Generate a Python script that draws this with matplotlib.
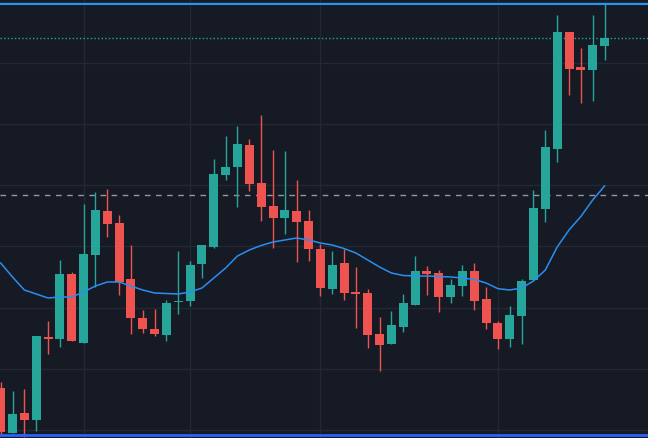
import numpy as np
import matplotlib.pyplot as plt

# OHLC per candle (price units)
opens = [5.2, 0.7, 2.7, 2.0, 10.3, 10.1, 16.6, 9.7, 18.5, 22.9,
         21.7, 16.1, 12.2, 11.1, 10.5, 13.8, 13.9, 17.6, 19.3, 26.5,
         27.3, 29.5, 25.7, 23.4, 22.2, 22.9, 21.9, 19.1, 15.1, 17.7,
         14.8, 14.7, 10.6, 9.6, 11.3, 13.5, 16.9, 16.7, 14.3, 15.4,
         16.9, 14.1, 11.7, 10.1, 12.4, 16.0, 23.1, 29.1, 40.8, 37.3,
         37.0, 39.4]
highs = [5.8, 4.9, 5.1, 10.4, 11.9, 18.0, 16.8, 23.6, 24.8, 25.1,
         22.5, 19.5, 13.0, 13.1, 14.0, 18.9, 17.9, 19.5, 28.1, 30.4,
         31.4, 30.1, 32.5, 29.0, 28.9, 26.0, 23.0, 19.6, 18.9, 19.1,
         17.3, 15.1, 12.3, 12.9, 14.6, 18.4, 17.4, 17.0, 16.1, 17.5,
         17.7, 15.3, 11.9, 13.4, 16.1, 25.0, 31.0, 42.5, 40.8, 39.2,
         42.5, 43.7]
lows = [0.4, 0.7, 0.3, 0.9, 8.6, 9.3, 9.9, 9.7, 15.3, 20.3,
        14.5, 10.6, 10.7, 10.4, 9.9, 12.6, 13.4, 16.2, 19.2, 26.0,
        23.3, 24.9, 21.9, 19.2, 20.6, 17.8, 17.9, 14.4, 14.6, 14.0,
        11.2, 9.2, 6.9, 9.6, 10.8, 13.5, 14.5, 12.8, 13.7, 14.4,
        13.0, 11.1, 9.1, 9.3, 9.6, 16.0, 21.8, 27.8, 34.5, 33.7,
        33.9, 38.0]
closes = [0.8, 2.6, 2.0, 10.4, 10.1, 16.6, 9.9, 18.6, 23.0, 21.6,
          15.8, 12.2, 11.1, 10.6, 13.7, 13.9, 17.5, 19.5, 26.6, 27.3,
          29.6, 25.6, 23.3, 22.2, 23.0, 21.8, 19.1, 15.2, 17.5, 14.7,
          14.6, 10.5, 9.5, 11.5, 13.7, 16.9, 16.6, 14.3, 15.5, 16.9,
          13.9, 11.7, 10.1, 12.5, 15.9, 23.2, 29.3, 40.8, 37.1, 37.0,
          39.5, 40.2]
# moving average line
ma = [17.7, 16.3, 15.0, 14.6, 14.2, 14.3, 14.3, 14.8, 15.4, 15.8,
      15.8, 15.4, 15.0, 14.7, 14.65, 14.6, 14.8, 15.2, 16.2, 17.2,
      18.4, 19.0, 19.45, 19.8, 20.0, 20.2, 20.0, 19.7, 19.5, 19.15,
      18.7, 18.0, 17.3, 16.7, 16.45, 16.4, 16.4, 16.35, 16.3, 16.2,
      16.05, 15.7, 15.13, 15.0, 15.2, 15.9, 17.0, 19.3, 21.0, 22.35,
      24.0, 25.4]

time_grid = [7, 16, 27, 42]
dashed_level = 24.47
upper_band = 43.6
lower_band = 0.5

BG = '#161a25'
UP = '#26a69a'
DOWN = '#ef5350'

fig = plt.figure(figsize=(6.48, 4.38), dpi=100, facecolor=BG)
ax = fig.add_axes([0, 0, 1, 1])
ax.set_facecolor(BG)

x = np.arange(len(opens))
o = np.array(opens)
c = np.array(closes)
up = c >= o
colors = np.where(up, UP, DOWN)

ax.vlines(x, lows, highs, colors=colors, linewidth=1, zorder=3)
ax.bar(x, np.abs(c - o) + 0.08, bottom=np.minimum(o, c) - 0.04, width=0.76,
       color=colors, linewidth=0, zorder=4)

ax.plot(x, ma, color='#2a8ef0', linewidth=1.1, zorder=5)

# last price line, reference level and band edges
ax.axhline(closes[-1], color=UP, linewidth=1, linestyle=(0, (1, 1.6)), zorder=2)
ax.axhline(dashed_level, color='#9598a1', linewidth=1, linestyle=(0, (4, 4)), zorder=2)
ax.axhline(upper_band, color='#2196f3', linewidth=1.5, zorder=6)
ax.axhline(lower_band, color='#2962ff', linewidth=2, zorder=6)

ax.set_xlim(-0.056, 54.67)
ax.set_ylim(0.2, 44.0)
ax.set_xticks(time_grid)
ax.set_yticks(np.arange(1.0, 45, 6.12))
ax.grid(True, color='#242834', linewidth=1)
ax.set_axisbelow(True)
ax.tick_params(left=False, bottom=False, labelleft=False, labelbottom=False)
for s in ax.spines.values():
    s.set_visible(False)

fig.savefig('out.png', dpi=100, facecolor=BG)
